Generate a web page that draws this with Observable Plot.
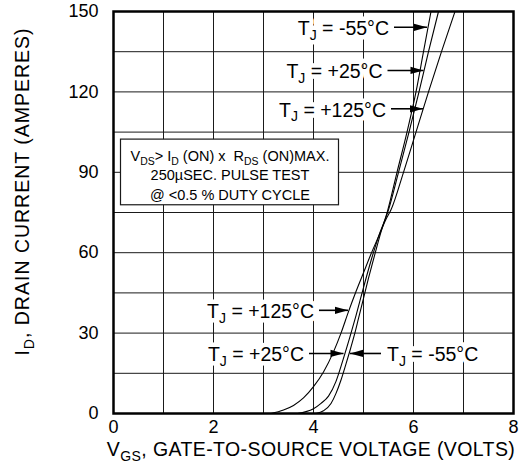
<!DOCTYPE html>
<html>
<head>
<meta charset="utf-8">
<script src="https://cdn.jsdelivr.net/npm/d3@7"></script>
<script src="https://cdn.jsdelivr.net/npm/@observablehq/plot@0.6"></script>
<style>
  html, body { margin: 0; padding: 0; background: #fff; }
  #chart svg { display: block; }
</style>
</head>
<body>
<div id="chart"></div>
<script>
// Axis ticks and grid
const vgsTicks = [0, 2, 4, 6, 8];
const idTicks = [0, 30, 60, 90, 120, 150];
const vgsGrid = [1, 2, 3, 4, 5, 6, 7];
const idGrid = [15, 30, 45, 60, 75, 90, 105, 120, 135];

// Transfer characteristics, [V_GS (V), I_D (A)] for each junction temperature
const tjMinus55 = [[4.05,0],[4.2,1],[4.35,3.7],[4.45,7.5],[4.55,12.5],[4.65,18.5],[4.73,23.5],[4.82,29.5],[4.9,35.5],[5.0,43],[5.1,50.5],[5.2,57.5],[5.33,66.5],[5.48,75.5],[5.67,90],[5.87,105],[6.05,120],[6.2,135],[6.35,150]];
const tjPlus25 = [[3.68,0],[3.85,0.7],[4.0,1.8],[4.15,3.8],[4.3,6.5],[4.45,12],[4.59,20],[4.72,28],[4.85,36.5],[5.0,47],[5.15,57],[5.3,66],[5.5,76],[5.7,90],[5.91,105],[6.11,120],[6.3,135],[6.5,150]];
const tjPlus125 = [[3.15,0],[3.4,1.3],[3.6,3],[3.8,5.8],[4.0,10],[4.2,15.5],[4.4,23],[4.55,30],[4.7,38],[4.85,45.5],[5.0,52.5],[5.15,59.5],[5.3,66],[5.45,72.5],[5.55,76],[5.8,90],[6.05,105],[6.3,120],[6.56,135],[6.83,150]];

// Texts ( _{..} marks a subscript )
const tjLabels = ["T_{J} = -55°C", "T_{J} = +25°C", "T_{J} = +125°C"];
const testConditions = ["V_{DS}> I_{D} (ON) x  R_{DS} (ON)MAX.", "250µSEC. PULSE TEST", "@ <0.5 % DUTY CYCLE"];
const xTitle = "V_{GS}, GATE-TO-SOURCE VOLTAGE (VOLTS)";
const yTitle = "I_{D}, DRAIN CURRENT (AMPERES)";

// Callout placement (data units): arrow at height y from tail to tip
const callouts = [
  {label: 0, side: "left", y: 144.1, tail: 5.61, tip: 6.27},
  {label: 1, side: "left", y: 128.0, tail: 5.48, tip: 6.20},
  {label: 2, side: "left", y: 113.7, tail: 5.55, tip: 6.19},
  {label: 2, side: "left", y: 38.5, tail: 4.11, tip: 4.69},
  {label: 1, side: "left", y: 22.4, tail: 3.91, tip: 4.60},
  {label: 0, side: "right", y: 22.4, tail: 5.35, tip: 4.73}
];
const leftCallouts = callouts.filter(d => d.side === "left");
const rightCallouts = callouts.filter(d => d.side === "right");
// Test-condition box and its three text rows
const noteBox = {x1: 0.15, x2: 4.51, y1: 77.7, y2: 102.2};
const noteRows = [96.3, 89.2, 81.9];

const font = "'Liberation Sans', Arial, Helvetica, sans-serif";

// filled arrowheads with the tip at the anchor point
const headRight = {draw(ctx) { ctx.moveTo(0, 0); ctx.lineTo(-13, -3.6); ctx.lineTo(-13, 3.6); ctx.closePath(); }};
const headLeft = {draw(ctx) { ctx.moveTo(0, 0); ctx.lineTo(13, -3.6); ctx.lineTo(13, 3.6); ctx.closePath(); }};

const curve = (data) => Plot.line(data, {x: d => d[0], y: d => d[1], curve: "monotone-x", stroke: "black", strokeWidth: 1.1});
const labelStyle = {y: "y", text: d => tjLabels[d.label], fontSize: 19.5, dy: 1.5, stroke: "white", strokeWidth: 9, fill: "black"};

const chart = Plot.plot({
  width: 519,
  height: 464,
  marginLeft: 113,
  marginRight: 6,
  marginTop: 11,
  marginBottom: 51,
  style: {fontFamily: font, fontSize: "18px", color: "black", background: "white"},
  x: {domain: [0, 8], ticks: vgsTicks, tickSize: 0, tickPadding: 7, label: null},
  y: {domain: [0, 150], ticks: idTicks, tickSize: 0, tickPadding: 15, label: null},
  marks: [
    Plot.ruleX(vgsGrid, {stroke: "#1a1a1a", strokeWidth: 1}),
    Plot.ruleY(idGrid, {stroke: "#1a1a1a", strokeWidth: 1}),
    Plot.rect([noteBox], {x1: "x1", x2: "x2", y1: "y1", y2: "y2", fill: "white", stroke: "#1a1a1a", strokeWidth: 1.2}),
    Plot.text(testConditions, {x: (noteBox.x1 + noteBox.x2) / 2, y: (d, i) => noteRows[i], text: d => d, fontSize: 14.5, textAnchor: "middle", dy: 1}),
    curve(tjMinus55),
    curve(tjPlus25),
    curve(tjPlus125),
    Plot.text(leftCallouts, {...labelStyle, x: d => d.tail - 0.1, textAnchor: "end"}),
    Plot.text(rightCallouts, {...labelStyle, x: d => d.tail + 0.12, textAnchor: "start"}),
    Plot.link(callouts, {x1: "tail", x2: "tip", y1: "y", y2: "y", stroke: "black", strokeWidth: 1.6}),
    Plot.dot(leftCallouts, {x: "tip", y: "y", symbol: headRight, fill: "black", stroke: "none"}),
    Plot.dot(rightCallouts, {x: "tip", y: "y", symbol: headLeft, fill: "black", stroke: "none"}),
    Plot.frame({stroke: "black", strokeWidth: 2.5}),
    Plot.text([xTitle], {frameAnchor: "bottom", text: d => d, fontSize: 19.5, textAnchor: "middle", lineAnchor: "middle", dx: -2.5, dy: 36}),
    Plot.text([yTitle], {frameAnchor: "left", text: d => d, fontSize: 19.5, textAnchor: "middle", lineAnchor: "middle", rotate: -90, dx: -91, dy: -21})
  ]
});

document.getElementById("chart").appendChild(chart);

// Turn the _{..} markup into subscript tspans; axis titles get a little tracking
const ns = "http://www.w3.org/2000/svg";
const tracking = new Map([[xTitle, "0.4px"], [yTitle, "1px"]]);
chart.querySelectorAll("text").forEach(t => {
  const s = t.textContent;
  if (!s.includes("_{")) return;
  if (tracking.has(s)) t.setAttribute("letter-spacing", tracking.get(s));
  const base = parseFloat(getComputedStyle(t).fontSize);
  const shift = base * 0.25;
  let level = 0;
  t.textContent = "";
  s.split(/_\{([^}]*)\}/).forEach((part, i) => {
    if (!part) return;
    const isSub = i % 2 === 1;
    const target = isSub ? shift : 0;
    const ts = document.createElementNS(ns, "tspan");
    ts.textContent = part;
    if (target !== level) ts.setAttribute("dy", target - level);
    level = target;
    if (isSub) ts.setAttribute("font-size", base * 0.72);
    t.appendChild(ts);
  });
});
</script>
</body>
</html>
